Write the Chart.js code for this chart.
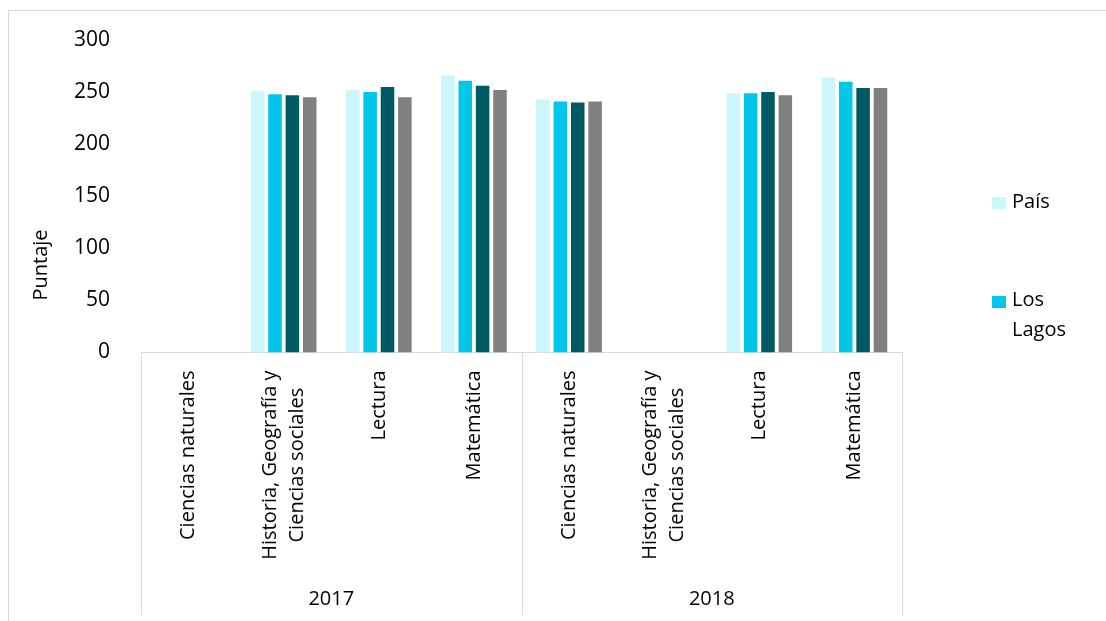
<!DOCTYPE html>
<html>
<head>
<meta charset="utf-8">
<script src="https://cdn.jsdelivr.net/npm/chart.js@4/dist/chart.umd.min.js"></script>
<style>
  html, body { margin: 0; padding: 0; background: #fff; }
  #wrap { position: relative; width: 1106px; height: 621px; overflow: hidden; }
  #c { position: absolute; left: 0; top: 0; }
  .lg-box { position: absolute; width: 14px; height: 12px; }
  .lg-txt { position: absolute; font-family: "Open Sans", sans-serif; font-size: 20px; line-height: 30px; color: #000; width: 80px; }
</style>
</head>
<body>
<div id="wrap">
  <canvas id="c" width="1106" height="621"></canvas>
  <div id="legend"></div>
</div>
<script>
// ---- data ----
const categories = [
  'Ciencias naturales',
  ['Historia, Geografía y', 'Ciencias sociales'],
  'Lectura',
  'Matemática',
  'Ciencias naturales',
  ['Historia, Geografía y', 'Ciencias sociales'],
  'Lectura',
  'Matemática'
];
const years = ['2017', '2018'];
const seriesNames = ['País', 'Los Lagos', 'Provincia', 'Comuna'];
const pais     = [null, 251, 252, 266, 243, null, 249, 264];
const losLagos = [null, 248, 250, 261, 241, null, 249, 260];
const provincia = [null, 247, 255, 256, 240, null, 250, 254];
const comuna   = [null, 245, 245, 252, 241, null, 247, 254];
const yTicks = [0, 50, 100, 150, 200, 250, 300];
const yTitle = 'Puntaje';
const colors = ['#CAF6FC', '#00C6EA', '#005A64', '#808080'];

const FONT = '"Open Sans", sans-serif';
const LINE = '#d9d9d9';

const decor = {
  id: 'decor',
  beforeDraw(chart) {
    const ctx = chart.ctx;
    ctx.save();
    ctx.strokeStyle = LINE;
    ctx.lineWidth = 1;
    ctx.strokeRect(8.5, 10.5, 1300, 800);
    ctx.restore();
  },
  afterDraw(chart) {
    const ctx = chart.ctx;
    const xs = chart.scales.x;
    const area = chart.chartArea;
    ctx.save();
    // separators for year groups
    const per = categories.length / years.length;
    const bounds = [area.left];
    for (let g = 1; g < years.length; g++) {
      bounds.push((xs.getPixelForValue(g * per - 1) + xs.getPixelForValue(g * per)) / 2);
    }
    bounds.push(area.right);
    ctx.strokeStyle = LINE;
    ctx.lineWidth = 1;
    bounds.forEach(b => {
      const xx = Math.round(b) + 0.5;
      ctx.beginPath();
      ctx.moveTo(xx, area.bottom);
      ctx.lineTo(xx, 615);
      ctx.stroke();
    });
    // category labels (rotated)
    ctx.fillStyle = '#000';
    ctx.font = '20px ' + FONT;
    ctx.textAlign = 'center';
    ctx.textBaseline = 'middle';
    categories.forEach((lab, i) => {
      const lines = Array.isArray(lab) ? lab : [lab];
      const px = xs.getPixelForValue(i);
      let w = 0;
      lines.forEach(l => { w = Math.max(w, ctx.measureText(l).width); });
      const cy = area.bottom + 18 + w / 2;
      ctx.save();
      ctx.translate(px, cy);
      ctx.rotate(-Math.PI / 2);
      lines.forEach((l, j) => {
        ctx.fillText(l, 0, (j - (lines.length - 1) / 2) * 27);
      });
      ctx.restore();
    });
    // year labels
    years.forEach((y, g) => {
      ctx.fillText(y, (bounds[g] + bounds[g + 1]) / 2, 599);
    });
    // y title
    ctx.save();
    ctx.translate(41, 265);
    ctx.rotate(-Math.PI / 2);
    ctx.fillText(yTitle, 0, 0);
    ctx.restore();
    ctx.restore();
  }
};

const seriesData = [pais, losLagos, provincia, comuna];
const chart = new Chart(document.getElementById('c'), {
  type: 'bar',
  data: {
    labels: categories,
    datasets: seriesData.map((d, i) => ({
      label: seriesNames[i],
      data: d,
      backgroundColor: colors[i],
      borderWidth: 0,
      categoryPercentage: 0.73,
      barPercentage: 0.78
    }))
  },
  options: {
    responsive: false,
    animation: false,
    layout: { padding: { left: 0, right: 204, top: 40, bottom: 0 } },
    plugins: { legend: { display: false }, tooltip: { enabled: false } },
    scales: {
      x: {
        grid: { display: false },
        border: { display: true, color: LINE, width: 1 },
        ticks: { display: false },
        afterFit(s) { s.height = 268.5; }
      },
      y: {
        min: 0, max: 300,
        afterBuildTicks(s) { s.ticks = yTicks.map(v => ({ value: v })); },
        grid: { display: false },
        border: { display: false },
        ticks: { padding: 23, color: '#000', font: { family: FONT, size: 21 } },
        afterFit(s) { s.width = 141; }
      }
    }
  },
  plugins: [decor]
});

// HTML legend (first two series, as in the original)
const legend = document.getElementById('legend');
chart.data.datasets.slice(0, 2).forEach((ds, i) => {
  const top = 186 + i * 98;
  const box = document.createElement('div');
  box.className = 'lg-box';
  box.style.left = '992px';
  box.style.top = (top + 11 + (i ? 1 : 0)) + 'px';
  box.style.background = ds.backgroundColor;
  const t = document.createElement('div');
  t.className = 'lg-txt';
  t.style.left = '1012px';
  t.style.top = top + 'px';
  t.textContent = ds.label;
  legend.appendChild(box);
  legend.appendChild(t);
});
</script>
</body>
</html>
